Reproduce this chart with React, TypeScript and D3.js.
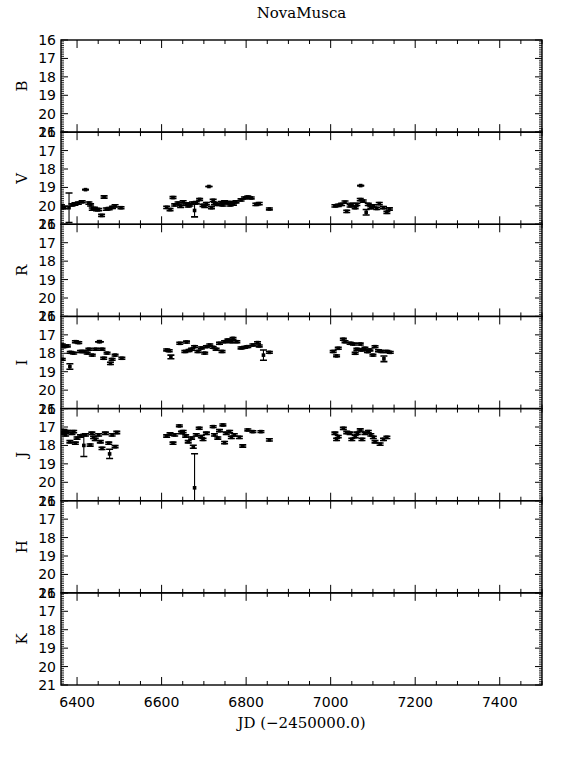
import React, { useRef, useEffect } from "react";
import * as d3 from "d3";

const width = 572;
const height = 762;
const margin = { top: 40, left: 61, right: 30, bottom: 77 };
const iwidth = width - margin.left - margin.right;
const nPanels = 7;
const panelH = (height - margin.top - margin.bottom) / nPanels;

const title = "NovaMusca";
const xTitle = "JD (\u22122450000.0)";
const bands = ["B", "V", "R", "I", "J", "H", "K"];
const magTicks = [16, 17, 18, 19, 20, 21];
const jdTicks = [6400, 6600, 6800, 7000, 7200, 7400];
const jdDomain = [6362, 7500];
const magDomain = [16, 21];

// [JD, mag, error]
const bPoints: number[][] = [];
const vPoints = [
  [6363, 20.0, 0.06], [6370, 20.1, 0.06], [6381, 20.1, 0.8], [6388, 19.95, 0.06],
  [6395, 19.9, 0.06], [6403, 19.85, 0.06], [6412, 19.78, 0.05], [6420, 19.12, 0.0],
  [6428, 19.85, 0.06], [6432, 19.95, 0.06], [6436, 20.18, 0.06], [6441, 20.14, 0.06],
  [6446, 20.2, 0.06], [6451, 20.2, 0.06], [6458, 20.52, 0.06], [6464, 19.52, 0.06],
  [6469, 20.18, 0.06], [6476, 20.15, 0.06], [6484, 20.08, 0.06], [6490, 20.0, 0.06],
  [6504, 20.1, 0.05],
  [6612, 20.08, 0.06], [6620, 20.2, 0.06], [6627, 19.55, 0.05], [6631, 19.95, 0.06],
  [6639, 19.85, 0.06], [6645, 20.02, 0.06], [6651, 19.78, 0.06], [6659, 19.9, 0.06],
  [6663, 20.0, 0.06], [6667, 19.95, 0.06], [6673, 19.85, 0.06], [6678, 20.25, 0.35],
  [6682, 19.83, 0.06], [6690, 19.65, 0.05], [6698, 19.97, 0.06], [6702, 20.02, 0.06],
  [6706, 19.88, 0.06], [6712, 18.95, 0.0], [6718, 20.1, 0.06], [6722, 19.7, 0.06],
  [6725, 19.88, 0.06], [6733, 19.92, 0.06], [6741, 19.83, 0.06], [6745, 19.95, 0.06],
  [6749, 19.78, 0.06], [6757, 19.83, 0.06], [6762, 19.95, 0.06], [6765, 19.83, 0.06],
  [6770, 19.9, 0.06], [6776, 19.78, 0.06], [6788, 19.68, 0.06], [6796, 19.57, 0.05],
  [6804, 19.52, 0.05], [6812, 19.57, 0.05], [6823, 19.92, 0.06], [6831, 19.88, 0.06],
  [6855, 20.17, 0.05],
  [7010, 20.0, 0.06], [7018, 19.97, 0.06], [7026, 19.92, 0.06], [7034, 19.8, 0.06],
  [7038, 20.3, 0.06], [7046, 20.0, 0.06], [7050, 19.92, 0.06], [7058, 20.1, 0.06],
  [7062, 19.92, 0.06], [7070, 19.66, 0.06], [7071, 18.9, 0.0], [7077, 19.74, 0.06],
  [7084, 20.35, 0.15], [7089, 19.92, 0.06], [7095, 20.1, 0.06], [7101, 20.0, 0.06],
  [7109, 20.14, 0.06], [7115, 19.88, 0.06], [7125, 20.1, 0.06], [7133, 20.35, 0.06],
  [7139, 20.17, 0.06],
];
const rPoints: number[][] = [];
const iPoints = [
  [6365, 17.55, 0.05], [6369, 17.64, 0.05], [6365, 18.33, 0.05], [6377, 17.6, 0.05],
  [6383, 18.72, 0.15], [6384, 17.95, 0.05], [6392, 17.99, 0.05], [6396, 17.37, 0.05],
  [6404, 17.42, 0.05], [6408, 17.9, 0.05], [6416, 17.9, 0.05], [6424, 17.99, 0.05],
  [6428, 17.78, 0.05], [6436, 18.1, 0.05], [6444, 17.78, 0.05], [6451, 17.37, 0.0],
  [6455, 17.37, 0.0], [6459, 17.78, 0.05], [6463, 18.27, 0.05], [6471, 17.99, 0.05],
  [6479, 18.55, 0.06], [6483, 18.33, 0.05], [6490, 18.1, 0.05], [6506, 18.27, 0.05],
  [6612, 17.82, 0.05], [6618, 17.86, 0.05], [6622, 18.2, 0.1], [6643, 17.46, 0.05],
  [6655, 17.9, 0.05], [6659, 17.39, 0.05], [6665, 17.85, 0.05], [6671, 17.78, 0.05],
  [6678, 17.64, 0.05], [6686, 17.9, 0.05], [6694, 17.71, 0.05], [6702, 17.99, 0.05],
  [6706, 17.64, 0.05], [6714, 17.55, 0.05], [6722, 17.68, 0.05], [6729, 17.78, 0.05],
  [6737, 17.46, 0.05], [6743, 17.9, 0.05], [6749, 17.37, 0.05], [6757, 17.28, 0.05],
  [6765, 17.37, 0.05], [6769, 17.19, 0.05], [6778, 17.37, 0.05], [6788, 17.71, 0.05],
  [6796, 17.68, 0.05], [6804, 17.64, 0.05], [6816, 17.55, 0.05], [6827, 17.42, 0.05],
  [6831, 17.6, 0.05], [6841, 18.1, 0.28], [6855, 17.95, 0.05],
  [7006, 17.9, 0.05], [7014, 18.14, 0.05], [7018, 17.73, 0.05], [7030, 17.24, 0.05],
  [7034, 17.37, 0.05], [7046, 17.46, 0.05], [7054, 17.5, 0.05], [7058, 18.0, 0.05],
  [7062, 17.78, 0.05], [7070, 17.5, 0.05], [7073, 17.82, 0.05], [7081, 17.73, 0.05],
  [7087, 17.91, 0.05], [7093, 17.82, 0.05], [7100, 18.1, 0.05], [7105, 17.64, 0.05],
  [7113, 17.86, 0.05], [7121, 17.9, 0.05], [7126, 18.3, 0.15], [7133, 17.9, 0.05],
  [7141, 17.95, 0.05],
];
const jPoints = [
  [6365, 17.34, 0.06], [6369, 17.2, 0.06], [6373, 17.43, 0.06], [6378, 17.25, 0.06],
  [6383, 17.8, 0.06], [6388, 17.34, 0.06], [6392, 17.25, 0.06], [6396, 17.88, 0.06],
  [6400, 17.6, 0.06], [6408, 17.49, 0.06], [6416, 18.0, 0.6], [6420, 17.43, 0.06],
  [6431, 17.98, 0.06], [6435, 17.34, 0.06], [6439, 17.56, 0.06], [6443, 17.67, 0.06],
  [6451, 17.43, 0.06], [6455, 17.8, 0.06], [6459, 18.16, 0.06], [6467, 17.34, 0.06],
  [6475, 17.88, 0.06], [6477, 18.46, 0.25], [6483, 17.43, 0.06], [6490, 18.07, 0.06],
  [6494, 17.3, 0.06],
  [6612, 17.49, 0.06], [6620, 17.38, 0.06], [6627, 17.88, 0.06], [6631, 17.43, 0.06],
  [6642, 16.94, 0.05], [6647, 17.3, 0.06], [6651, 17.25, 0.06], [6657, 17.49, 0.06],
  [6663, 17.8, 0.06], [6671, 17.6, 0.06], [6675, 18.07, 0.08], [6678, 20.3, 1.85],
  [6682, 17.43, 0.06], [6689, 17.07, 0.05], [6694, 17.52, 0.06], [6698, 17.67, 0.06],
  [6706, 17.34, 0.06], [6722, 16.98, 0.05], [6725, 17.43, 0.06], [6733, 17.6, 0.06],
  [6737, 17.2, 0.06], [6745, 16.89, 0.05], [6749, 17.85, 0.06], [6753, 17.34, 0.06],
  [6761, 17.25, 0.06], [6765, 17.56, 0.06], [6772, 17.43, 0.06], [6784, 17.56, 0.06],
  [6792, 18.03, 0.06], [6804, 17.16, 0.05], [6816, 17.25, 0.05], [6835, 17.25, 0.05],
  [6855, 17.7, 0.06],
  [7010, 17.34, 0.06], [7014, 17.67, 0.06], [7018, 17.52, 0.06], [7030, 17.07, 0.06],
  [7038, 17.3, 0.06], [7046, 17.34, 0.06], [7050, 17.67, 0.06], [7058, 17.52, 0.06],
  [7063, 17.34, 0.06], [7070, 17.16, 0.06], [7074, 17.67, 0.06], [7081, 17.34, 0.06],
  [7089, 17.25, 0.06], [7095, 17.43, 0.06], [7101, 17.56, 0.06], [7105, 17.8, 0.06],
  [7117, 17.93, 0.06], [7125, 17.67, 0.06], [7133, 17.56, 0.06],
];
const hPoints: number[][] = [];
const kPoints: number[][] = [];

const bandData = [bPoints, vPoints, rPoints, iPoints, jPoints, hPoints, kPoints];

const App = () => {
  const ref = useRef<SVGSVGElement>(null);

  useEffect(() => {
    const svg = d3.select(ref.current);
    svg.selectAll("*").remove();
    draw(svg);
  }, []);

  const draw = (svg: any) => {
    const x = d3.scaleLinear().domain(jdDomain).range([0, iwidth]);
    const y = d3.scaleLinear().domain(magDomain).range([0, panelH]);
    const minorX = d3.range(6400, 7501, 50).filter((d) => !jdTicks.includes(d));
    const minorY = d3.range(161, 210).map((d) => d / 10).filter((d) => d % 1 !== 0);

    svg
      .append("text")
      .attr("x", margin.left + iwidth / 2)
      .attr("y", 18)
      .attr("text-anchor", "middle")
      .style("font-family", "DejaVu Serif")
      .style("font-size", "15px")
      .text(title);

    const defs = svg.append("defs");

    bands.forEach((band, i) => {
      const top = margin.top + i * panelH;
      const g = svg.append("g").attr("transform", `translate(${margin.left},${top})`);

      defs
        .append("clipPath")
        .attr("id", `clip${i}`)
        .append("rect")
        .attr("width", iwidth)
        .attr("height", panelH);

      const ax = g.append("g").attr("stroke", "#000").attr("fill", "none");
      ax.append("rect").attr("width", iwidth).attr("height", panelH).attr("stroke-width", 1.4);

      // x ticks, top and bottom, pointing inward
      jdTicks.forEach((d) => {
        ax.append("line").attr("x1", x(d)).attr("x2", x(d)).attr("y1", 0).attr("y2", 8);
        ax.append("line").attr("x1", x(d)).attr("x2", x(d)).attr("y1", panelH).attr("y2", panelH - 8);
      });
      minorX.forEach((d) => {
        ax.append("line").attr("x1", x(d)).attr("x2", x(d)).attr("y1", 0).attr("y2", 4);
        ax.append("line").attr("x1", x(d)).attr("x2", x(d)).attr("y1", panelH).attr("y2", panelH - 4);
      });
      // y ticks, left and right
      magTicks.forEach((d) => {
        ax.append("line").attr("x1", 0).attr("x2", 7).attr("y1", y(d)).attr("y2", y(d));
        ax.append("line").attr("x1", iwidth).attr("x2", iwidth - 7).attr("y1", y(d)).attr("y2", y(d));
      });
      minorY.forEach((d) => {
        ax.append("line").attr("x1", 0).attr("x2", 3).attr("y1", y(d)).attr("y2", y(d)).attr("stroke-width", 0.8);
        ax.append("line").attr("x1", iwidth).attr("x2", iwidth - 3).attr("y1", y(d)).attr("y2", y(d)).attr("stroke-width", 0.8);
      });

      g.selectAll("text.ylab")
        .data(magTicks)
        .enter()
        .append("text")
        .attr("class", "ylab")
        .attr("x", -5)
        .attr("y", (d: number) => y(d))
        .attr("dy", "0.36em")
        .attr("text-anchor", "end")
        .style("font-family", "DejaVu Sans")
        .style("font-size", "14px")
        .text((d: number) => d);

      g.append("text")
        .attr("transform", `translate(${22 - margin.left},${panelH / 2}) rotate(-90)`)
        .attr("text-anchor", "middle")
        .attr("dy", "0.35em")
        .style("font-family", "DejaVu Serif")
        .style("font-size", "15px")
        .text(band);

      const pts = g.append("g").attr("clip-path", `url(#clip${i})`);
      const data = bandData[i];
      const pt = pts.selectAll("g.pt").data(data).enter().append("g").attr("class", "pt");
      pt.append("line")
        .attr("x1", (d: number[]) => x(d[0]))
        .attr("x2", (d: number[]) => x(d[0]))
        .attr("y1", (d: number[]) => y(d[1] - d[2]))
        .attr("y2", (d: number[]) => y(d[1] + d[2]))
        .attr("stroke", "#000")
        .attr("stroke-width", 1.1);
      [-1, 1].forEach((s) => {
        pt.append("line")
          .attr("x1", (d: number[]) => x(d[0]) - 3.5)
          .attr("x2", (d: number[]) => x(d[0]) + 3.5)
          .attr("y1", (d: number[]) => y(d[1] + s * d[2]))
          .attr("y2", (d: number[]) => y(d[1] + s * d[2]))
          .attr("stroke", "#000")
          .attr("stroke-width", 1.6);
      });
      pt.append("rect")
        .attr("x", (d: number[]) => x(d[0]) - 1.8)
        .attr("y", (d: number[]) => y(d[1]) - 1.8)
        .attr("width", 3.6)
        .attr("height", 3.6)
        .attr("fill", "#000");
    });

    const bottom = margin.top + nPanels * panelH;
    svg
      .append("g")
      .selectAll("text")
      .data(jdTicks)
      .enter()
      .append("text")
      .attr("x", (d: number) => margin.left + x(d))
      .attr("y", bottom + 22)
      .attr("text-anchor", "middle")
      .style("font-family", "DejaVu Sans")
      .style("font-size", "14px")
      .text((d: number) => d);

    svg
      .append("text")
      .attr("x", margin.left + iwidth / 2)
      .attr("y", bottom + 43)
      .attr("text-anchor", "middle")
      .style("font-family", "DejaVu Serif")
      .style("font-size", "15px")
      .text(xTitle);
  };

  return (
    <svg
      ref={ref}
      width={width}
      height={height}
      style={{ position: "absolute", left: 0, top: 0, background: "#fff" }}
    ></svg>
  );
};

export default App;
